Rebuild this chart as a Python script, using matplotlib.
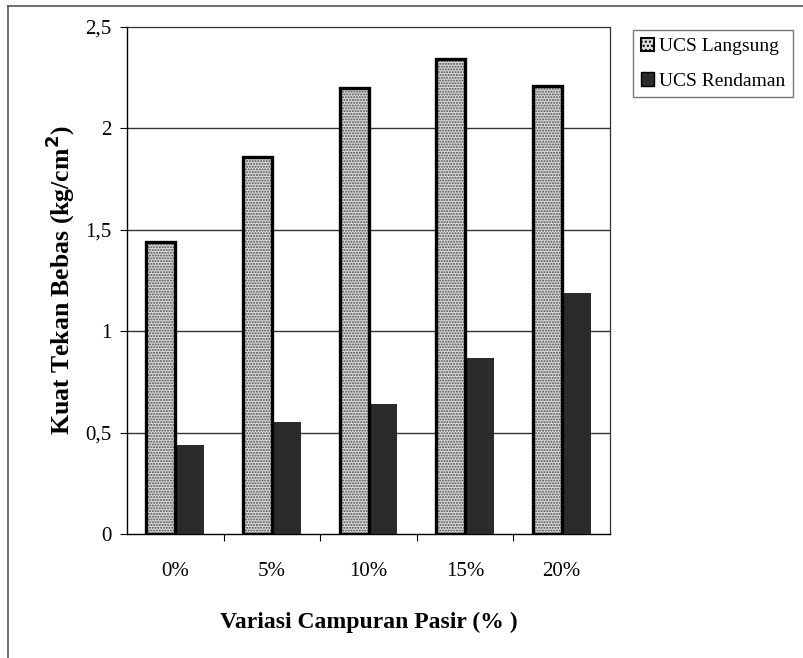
import matplotlib
matplotlib.use("Agg")
import matplotlib.pyplot as plt
import numpy as np
from matplotlib.lines import Line2D

plt.rcParams['font.family'] = ['Liberation Serif', 'DejaVu Serif']
plt.rcParams['hatch.linewidth'] = 1.0

categories = ["0%", "5%", "10%", "15%", "20%"]
ucs_langsung = [1.44, 1.86, 2.20, 2.34, 2.21]
ucs_rendaman = [0.44, 0.55, 0.64, 0.87, 1.19]
y_ticks = [0, 0.5, 1, 1.5, 2, 2.5]
y_tick_labels = ["0", "0,5", "1", "1,5", "2", "2,5"]

fig = plt.figure(figsize=(8.04, 6.58), dpi=100)
ax = fig.add_axes([127 / 804, 1 - 534 / 658, (610 - 127) / 804, (534 - 27) / 658])

x = np.arange(len(categories))
w = 0.3
# stippled fill for the direct-test bars, with a separate heavy outline
ax.bar(x - w / 2, ucs_langsung, width=w, facecolor="#dcdcdc", edgecolor="#4a4a4a",
       linewidth=0, hatch="......", label="UCS Langsung", zorder=3)
for xi, v in zip(x, ucs_langsung):
    ax.add_patch(plt.Rectangle((xi - w, 0), w, v, fill=False, edgecolor="black",
                               linewidth=2.4, zorder=4))
ax.bar(x + w / 2, ucs_rendaman, width=w, color="#2b2b2b", label="UCS Rendaman", zorder=3)

ax.set_xlim(-0.5, len(categories) - 0.5)
ax.set_ylim(0, 2.5)
ax.set_yticks(y_ticks)
ax.set_yticklabels(y_tick_labels, fontsize=15)
ax.set_xticks(x)
ax.set_xticklabels(categories, fontsize=15)
ax.tick_params(axis="x", length=0, pad=20)
ax.set_xticks(np.arange(0.5, len(categories) - 0.5, 1), minor=True)
ax.tick_params(axis="x", which="minor", length=5, direction="out", width=0.8)
ax.tick_params(axis="y", length=5, direction="out", width=0.8, pad=6)

for yv in y_ticks[1:-1]:
    ax.axhline(yv, color="#333333", linewidth=1.0, zorder=1)

for side in ["top", "right"]:
    ax.spines[side].set_linestyle((0, (2, 1)))
    ax.spines[side].set_linewidth(0.9)
    ax.spines[side].set_color("#333333")
ax.spines["left"].set_linewidth(1.0)
ax.spines["bottom"].set_linewidth(1.0)

ax.set_xlabel("Variasi Campuran Pasir (% )", fontsize=17, fontweight="bold", labelpad=22)
ax.set_ylabel("Kuat Tekan Bebas (kg/cm$^\\mathbf{2}$)", fontsize=18.5, fontweight="bold", labelpad=6)

handles = [
    plt.Rectangle((0, 0), 1, 1, facecolor="#dcdcdc", edgecolor="black", hatch="....", linewidth=1.5),
    plt.Rectangle((0, 0), 1, 1, facecolor="#2b2b2b", edgecolor="black", linewidth=1.0),
]
leg = fig.legend(handles, ["UCS Langsung", "UCS Rendaman"], loc="upper left",
                 bbox_to_anchor=(633 / 804, 1 - 30 / 658), fontsize=14, frameon=True,
                 fancybox=False, edgecolor="#555555", handlelength=0.7, handleheight=0.7,
                 handletextpad=0.25, borderpad=0.4, labelspacing=0.85, borderaxespad=0)
leg.get_frame().set_linewidth(1.0)

# outer chart frame
fig.add_artist(Line2D([8 / 804, 1.0], [1 - 6 / 658, 1 - 6 / 658], color="#555555", linewidth=1.2))
fig.add_artist(Line2D([8 / 804, 8 / 804], [0, 1 - 6 / 658], color="#555555", linewidth=1.2))

fig.savefig("out.png", dpi=100, facecolor="white")
